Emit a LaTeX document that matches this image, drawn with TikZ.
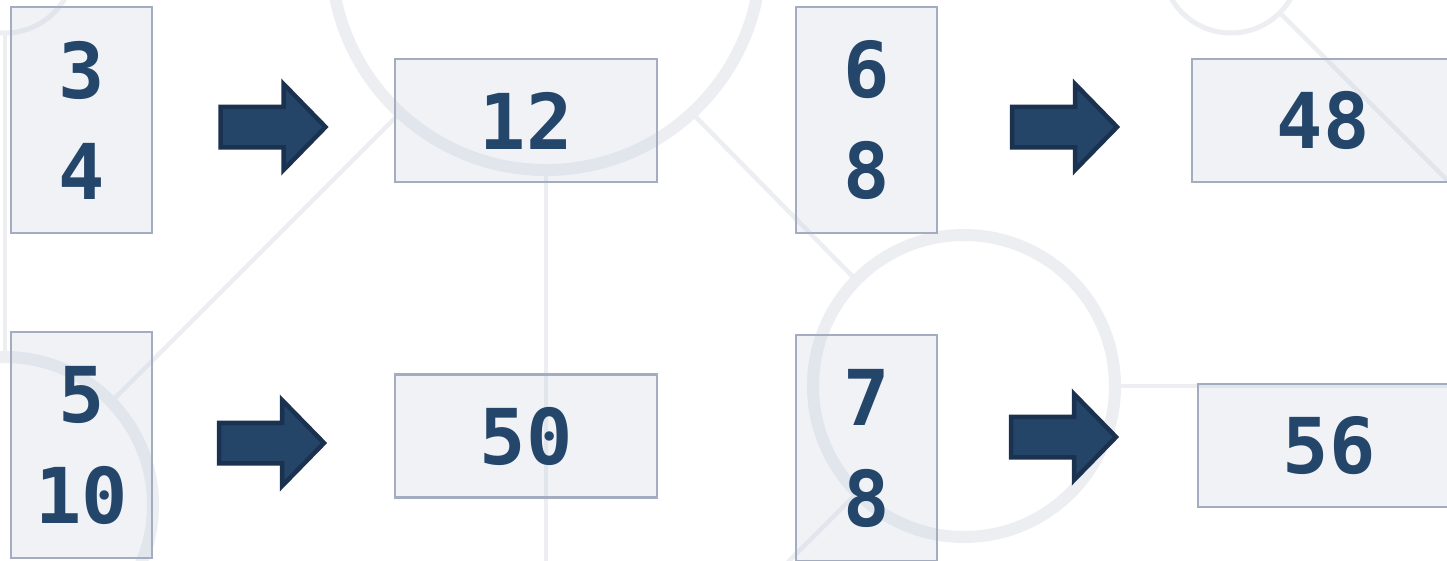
\documentclass[tikz,border=0pt]{standalone}
\usepackage{fontspec}
\setmonofont{DejaVu Sans Mono}
\definecolor{boxtint}{HTML}{BCC6D9}
\definecolor{boxline}{HTML}{A4ACBF}
\definecolor{numcol}{HTML}{24466A}
\definecolor{arrowfill}{HTML}{244468}
\definecolor{arrowline}{HTML}{1B3150}
\definecolor{decor}{HTML}{ECEEF2}
\newcommand{\numfont}{\fontsize{77}{101}\selectfont\ttfamily\bfseries}
\tikzset{
  numbox/.style = {draw = boxline, line width = 2.5pt, fill = boxtint, fill opacity = 0.21, text opacity = 1, text = numcol, font = \numfont, align = center, inner sep = 0pt},
  tallbox/.style = {numbox, minimum width = 141pt, minimum height = 226pt},
  widebox/.style = {numbox, minimum width = 262pt, minimum height = 123pt},
  ring/.style = {draw = decor, line width = 12pt},
  thinring/.style = {draw = decor, line width = 5pt},
  guide/.style = {draw = decor, line width = 4.5pt},
  blockarrow/.pic = {
    \filldraw[fill = arrowfill, draw = arrowline, line width = 4.5pt]
      (-53,-20.25) -- (10,-20.25) -- (10,-43) -- (52,0) -- (10,43) -- (10,20.25) -- (-53,20.25) -- cycle;
  }
}
\begin{document}
\begin{tikzpicture}[x = 1pt, y = -1pt]
\useasboundingbox (0,0) rectangle (1447,560);
\fill[white] (0,0) rectangle (1447,560);
\clip (0,0) rectangle (1447,560);
% faint rings and guide lines behind the boxes
\draw[guide] (5,33) -- (5,357);
\draw[guide] (400,113) -- (108,405);
\draw[guide] (692,113) -- (857,281);
\draw[guide] (546,170) -- (546,570);
\draw[guide] (1115,386) -- (1460,386);
\draw[guide] (857,493) -- (780,570);
\draw[guide] (1280,13) -- (1460,193);
\draw[thinring] (5,-36) circle [radius = 69];
\draw[thinring] (1231,-36) circle [radius = 69];
\draw[ring] (546,-45) circle [radius = 215];
\draw[ring] (964,386) circle [radius = 151];
\draw[ring] (5,505) circle [radius = 148];
% factor pairs and products
\node[tallbox] (pairA) at (81.5,120) {3\\4};
\node[widebox] (prodA) at (526,120.5) {12};
\node[tallbox] (pairB) at (866.5,120) {6\\8};
\node[widebox] (prodB) at (1323,120.5) {48};
\node[tallbox] (pairC) at (81.5,445) {5\\10};
\node[widebox] (prodC) at (526,436) {50};
\node[tallbox] (pairD) at (866.5,448) {7\\8};
\node[widebox] (prodD) at (1329,445.5) {56};
% block arrows
\pic (arrA) at (273.5,127) {blockarrow};
\pic (arrB) at (1065,127) {blockarrow};
\pic (arrC) at (272,443) {blockarrow};
\pic (arrD) at (1064,437) {blockarrow};
\end{tikzpicture}
\end{document}
